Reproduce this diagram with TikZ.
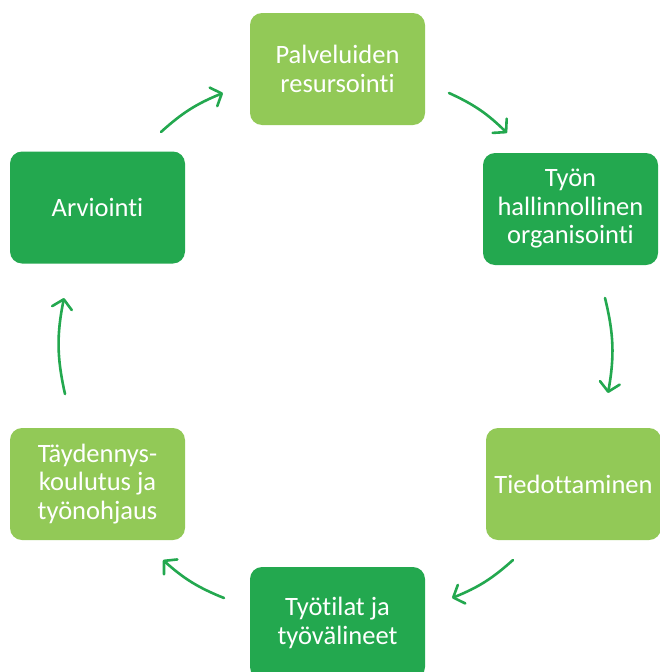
\documentclass[tikz,border=0pt]{standalone}
\usepackage{fontspec}
\setmainfont{Carlito}[RawFeature={-liga}]
\usetikzlibrary{arrows.meta}
\definecolor{vaalea}{HTML}{92C957}
\definecolor{tumma}{HTML}{23A84F}
\tikzset{
  laatikko/.style={rounded corners=12pt, minimum width=175pt, minimum height=112pt,
                   inner sep=0pt, text=white, align=center,
                   font=\fontsize{26.5}{28.5}\selectfont},
  nuoli/.style={tumma, line width=2.6pt, line cap=round,
                -{Straight Barb[length=9pt,width=20pt,round]}}
}
\begin{document}
\begin{tikzpicture}[x=1pt, y=-1pt]
  \useasboundingbox (0,0) rectangle (659,672);

  % laatikot
  \node[laatikko, fill=vaalea] (pal) at (337.5,69) {Palveluiden\\resursointi};
  \node[laatikko, fill=tumma]  (tyo) at (570.5,209) {Työn\\hallinnollinen\\organisointi};
  \node[laatikko, fill=vaalea] (tie) at (573.5,484) {Tiedottaminen};
  \node[laatikko, fill=tumma]  (til) at (337.5,623) {Työtilat ja\\työvälineet};
  \node[laatikko, fill=vaalea] (tay) at (97.5,484) {Täydennys-\\koulutus ja\\työnohjaus};
  \node[laatikko, fill=tumma]  (arv) at (97.5,207.5) {Arviointi};

  % nuolten päät
  \coordinate (n1a) at (161,132); \coordinate (n1b) at (223,93);
  \coordinate (n2a) at (449,93);  \coordinate (n2b) at (507,133);
  \coordinate (n3a) at (605,298); \coordinate (n3b) at (608,393);
  \coordinate (n4a) at (513,560); \coordinate (n4b) at (452,598);
  \coordinate (n5a) at (224,598); \coordinate (n5b) at (163,560);
  \coordinate (n6a) at (65,394);  \coordinate (n6b) at (64,298);

  % nuolet
  \draw[nuoli] (n1a) to[bend left=10] (n1b);
  \draw[nuoli] (n2a) to[bend left=10] (n2b);
  \draw[nuoli] (n3a) to[bend left=12] (n3b);
  \draw[nuoli] (n4a) to[bend left=10] (n4b);
  \draw[nuoli] (n5a) to[bend left=10] (n5b);
  \draw[nuoli] (n6a) to[bend left=12] (n6b);
\end{tikzpicture}
\end{document}
